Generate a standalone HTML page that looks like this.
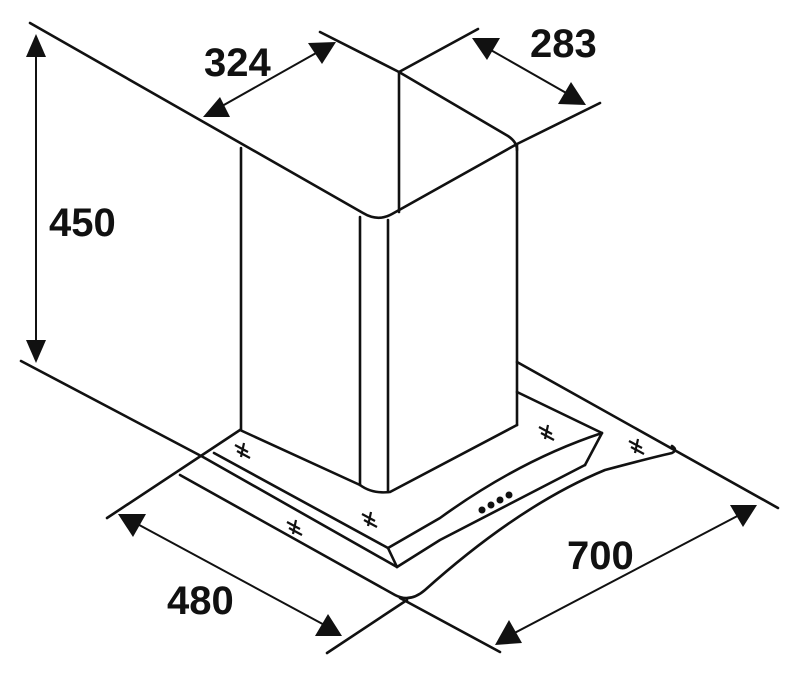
<!DOCTYPE html>
<html><head><style>body{margin:0;background:#fff}svg{display:block}</style></head><body>
<svg width="800" height="674" viewBox="0 0 800 674" xmlns="http://www.w3.org/2000/svg">
<g fill="none" stroke="#111" stroke-width="2.6" stroke-linejoin="round" stroke-linecap="round">
<path d="M30,23 L363,213 Q378,222 392,214 L517,144 L600,103"/>
<path d="M320,32 L399,72 L508,136 Q517,142 517,150"/>
<path d="M399,72 L478,29"/>
<path d="M399,72 L399,212"/>
<path d="M241,148 L241,430"/>
<path d="M360,217 L360,485"/>
<path d="M388,220 L388,492"/>
<path d="M517,145 L517,425"/>
<path d="M240,430 L360,485 Q372,494 390,492 L517,425"/>
<path d="M517,392 L602,433 L585,465"/>
<path d="M602,433 Q520,460 440,518 L388,548"/>
<path d="M585,465 L440,540 L397,567"/>
<path d="M240,430 L107,518"/>
<path d="M21,361 L203,457 L397,567"/>
<path d="M214,453 L388,548 L397,567"/>
<path d="M180,475 L395,595 Q410,603 425,590 Q520,505 605,470 Q650,458 672,453 Q678,450 672,446"/>
<path d="M517,362 L778,508"/>
<path d="M327,653 L407,600"/>
<path d="M400,598 L500,652"/>
</g>
<g stroke="#111" stroke-width="2">
<line x1="36" y1="45" x2="36" y2="352"/>
<line x1="215" y1="110" x2="325" y2="48"/>
<line x1="482" y1="45" x2="575" y2="98"/>
<line x1="130" y1="520" x2="330" y2="628"/>
<line x1="505" y1="638" x2="745" y2="512"/>
</g>
<g fill="#111">
<polygon points="36,34 26,57 46,57"/>
<polygon points="36,363 26,340 46,340"/>
<polygon points="203,117 230,117 220,97"/>
<polygon points="336,42 308,43 322,64"/>
<polygon points="472,38 500,38 487,60"/>
<polygon points="586,105 558,104 571,82"/>
<polygon points="118,514 146,514 133,537"/>
<polygon points="342,636 315,636 328,614"/>
<polygon points="495,645 522,643 509,620"/>
<polygon points="757,505 730,505 743,527"/>
<circle cx="482" cy="510" r="3.5"/><circle cx="491" cy="505" r="3.5"/><circle cx="500" cy="500" r="3.5"/><circle cx="509" cy="495" r="3.5"/>
</g>
<g stroke="#111" stroke-width="2.2">
<path d="M235,445 l13,7 M237,451 l13,7 M244,443 l-3,14"/>
<path d="M287,522 l13,7 M289,528 l13,7 M296,520 l-3,14"/>
<path d="M362,514 l13,7 M364,520 l13,7 M371,512 l-3,14"/>
<path d="M539,427 l13,7 M541,433 l13,7 M548,425 l-3,14"/>
<path d="M629,441 l13,7 M631,447 l13,7 M638,439 l-3,14"/>
</g>
<g font-family="Liberation Sans, sans-serif" font-weight="bold" font-size="40" fill="#111">
<text x="49" y="236">450</text>
<text x="204" y="76">324</text>
<text x="530" y="57">283</text>
<text x="167" y="614">480</text>
<text x="567" y="569">700</text>
</g>
</svg>
</body></html>
